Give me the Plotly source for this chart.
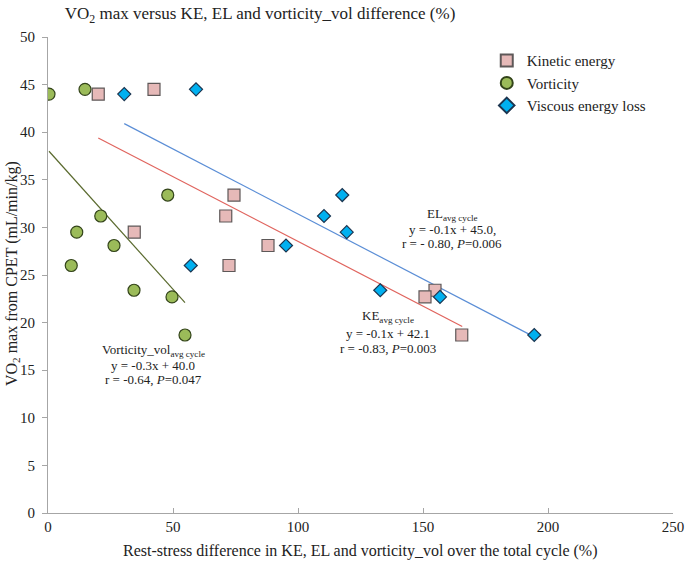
import plotly.graph_objects as go

# VO2 max values (shared y for each series)
vo2 = [44.0, 44.5, 33.4, 31.2, 29.5, 28.1, 26.0, 23.4, 22.7, 18.7]

# x values: rest-stress difference (%)
ke_diff = [20.1, 42.4, 74.4, 71.1, 34.5, 88.0, 72.4, 154.8, 150.8, 165.5]
vort_diff = [0.4, 14.8, 47.9, 21.1, 11.5, 26.4, 9.3, 34.4, 49.6, 54.8]
el_diff = [30.5, 59.2, 117.7, 110.4, 119.5, 95.2, 57.1, 132.9, 156.8, 194.5]

# Trend line endpoints
ke_fit_x = [20.1, 165.7]
ke_fit_y = [39.4, 19.6]
el_fit_x = [30.5, 194.5]
el_fit_y = [40.9, 18.5]
vort_fit_x = [0.4, 54.8]
vort_fit_y = [38.0, 22.1]

x_ticks = [0, 50, 100, 150, 200, 250]
y_ticks = [0, 5, 10, 15, 20, 25, 30, 35, 40, 45, 50]

FONT = "Liberation Serif"
W, H = 685, 564

fig = go.Figure()

# trend lines
fig.add_trace(go.Scatter(x=ke_fit_x, y=ke_fit_y, mode="lines",
                         line=dict(color="#E0645E", width=1.2), showlegend=False, hoverinfo="skip"))
fig.add_trace(go.Scatter(x=el_fit_x, y=el_fit_y, mode="lines",
                         line=dict(color="#5B8ED6", width=1.2), showlegend=False, hoverinfo="skip"))
fig.add_trace(go.Scatter(x=vort_fit_x, y=vort_fit_y, mode="lines",
                         line=dict(color="#5A6A2E", width=1.2), showlegend=False, hoverinfo="skip"))

# scatter series
fig.add_trace(go.Scatter(x=ke_diff, y=vo2, mode="markers", name="Kinetic energy",
                         marker=dict(symbol="square", size=12, color="#E6B9B8",
                                     line=dict(color="#5E5858", width=1.2))))
fig.add_trace(go.Scatter(x=vort_diff, y=vo2, mode="markers", name="Vorticity",
                         marker=dict(symbol="circle", size=12, color="#9BBB59",
                                     line=dict(color="#33441A", width=1.2))))
fig.add_trace(go.Scatter(x=el_diff, y=vo2, mode="markers", name="Viscous energy loss",
                         marker=dict(symbol="diamond", size=10, color="#00B0F0",
                                     line=dict(color="#1C3550", width=1.2))))

annos = []
def add_text(x, y, text):
    annos.append(dict(x=x, y=y, xref="x", yref="y", text=text, showarrow=False,
                      font=dict(family=FONT, size=13, color="#222222"),
                      xanchor="center", yanchor="middle"))

add_text(161.6, 31.4, "EL<sub>avg cycle</sub>")
add_text(161.6, 29.8, "y = -0.1x + 45.0,")
add_text(161.6, 28.3, "r = - 0.80, <i>P</i>=0.006")

add_text(136, 20.6, "KE<sub>avg cycle</sub>")
add_text(136, 18.9, "y = -0.1x + 42.1")
add_text(136, 17.3, "r = -0.83, <i>P</i>=0.003")

add_text(42, 17.1, "Vorticity_vol<sub>avg cycle</sub>")
add_text(42, 15.5, "y = -0.3x + 40.0")
add_text(42, 14.0, "r = -0.64, <i>P</i>=0.047")

# axis titles as annotations
annos.append(dict(x=-0.0576, y=0.502, xref="paper", yref="paper", textangle=-90,
                  text="VO<sub>2</sub> max from CPET (mL/min/kg)", showarrow=False,
                  font=dict(family=FONT, size=16, color="#222222"),
                  xanchor="center", yanchor="middle"))
annos.append(dict(x=0.4995, y=-0.080, xref="paper", yref="paper",
                  text="Rest-stress difference in KE, EL and vorticity_vol over the total cycle (%)",
                  showarrow=False, font=dict(family=FONT, size=16, color="#222222"),
                  xanchor="center", yanchor="middle"))

fig.update_layout(
    width=W, height=H,
    margin=dict(l=48, r=12, t=37, b=51, autoexpand=False),
    paper_bgcolor="white", plot_bgcolor="white",
    font=dict(family=FONT, size=15, color="#222222"),
    title=dict(text="VO<sub>2</sub> max versus KE, EL and vorticity_vol difference (%)",
               x=260/W, xref="container", xanchor="center",
               y=1-13/H, yref="container", yanchor="middle",
               font=dict(family=FONT, size=17, color="#222222")),
    xaxis=dict(range=[0, 250], tickvals=x_ticks, showgrid=False, zeroline=False,
               automargin=False,
               showline=True, linecolor="#A6A6A6", linewidth=1,
               ticks="inside", ticklen=5, tickcolor="#A6A6A6",
               tickfont=dict(family=FONT, size=15, color="#222222")),
    yaxis=dict(range=[0, 50], tickvals=y_ticks, showgrid=False, zeroline=False,
               automargin=False, ticklabelstandoff=4,
               showline=True, linecolor="#A6A6A6", linewidth=1,
               ticks="outside", ticklen=5, tickcolor="#A6A6A6",
               tickfont=dict(family=FONT, size=15, color="#222222")),
    legend=dict(x=0.702, y=0.985, xanchor="left", yanchor="top",
                font=dict(family=FONT, size=15, color="#222222"),
                bgcolor="rgba(0,0,0,0)", tracegroupgap=0, itemsizing="constant"),
    annotations=annos,
)

fig.write_html("out.html",
               config={"displayModeBar": False},
               post_script="document.body.style.margin='0';document.body.style.overflow='hidden';")
